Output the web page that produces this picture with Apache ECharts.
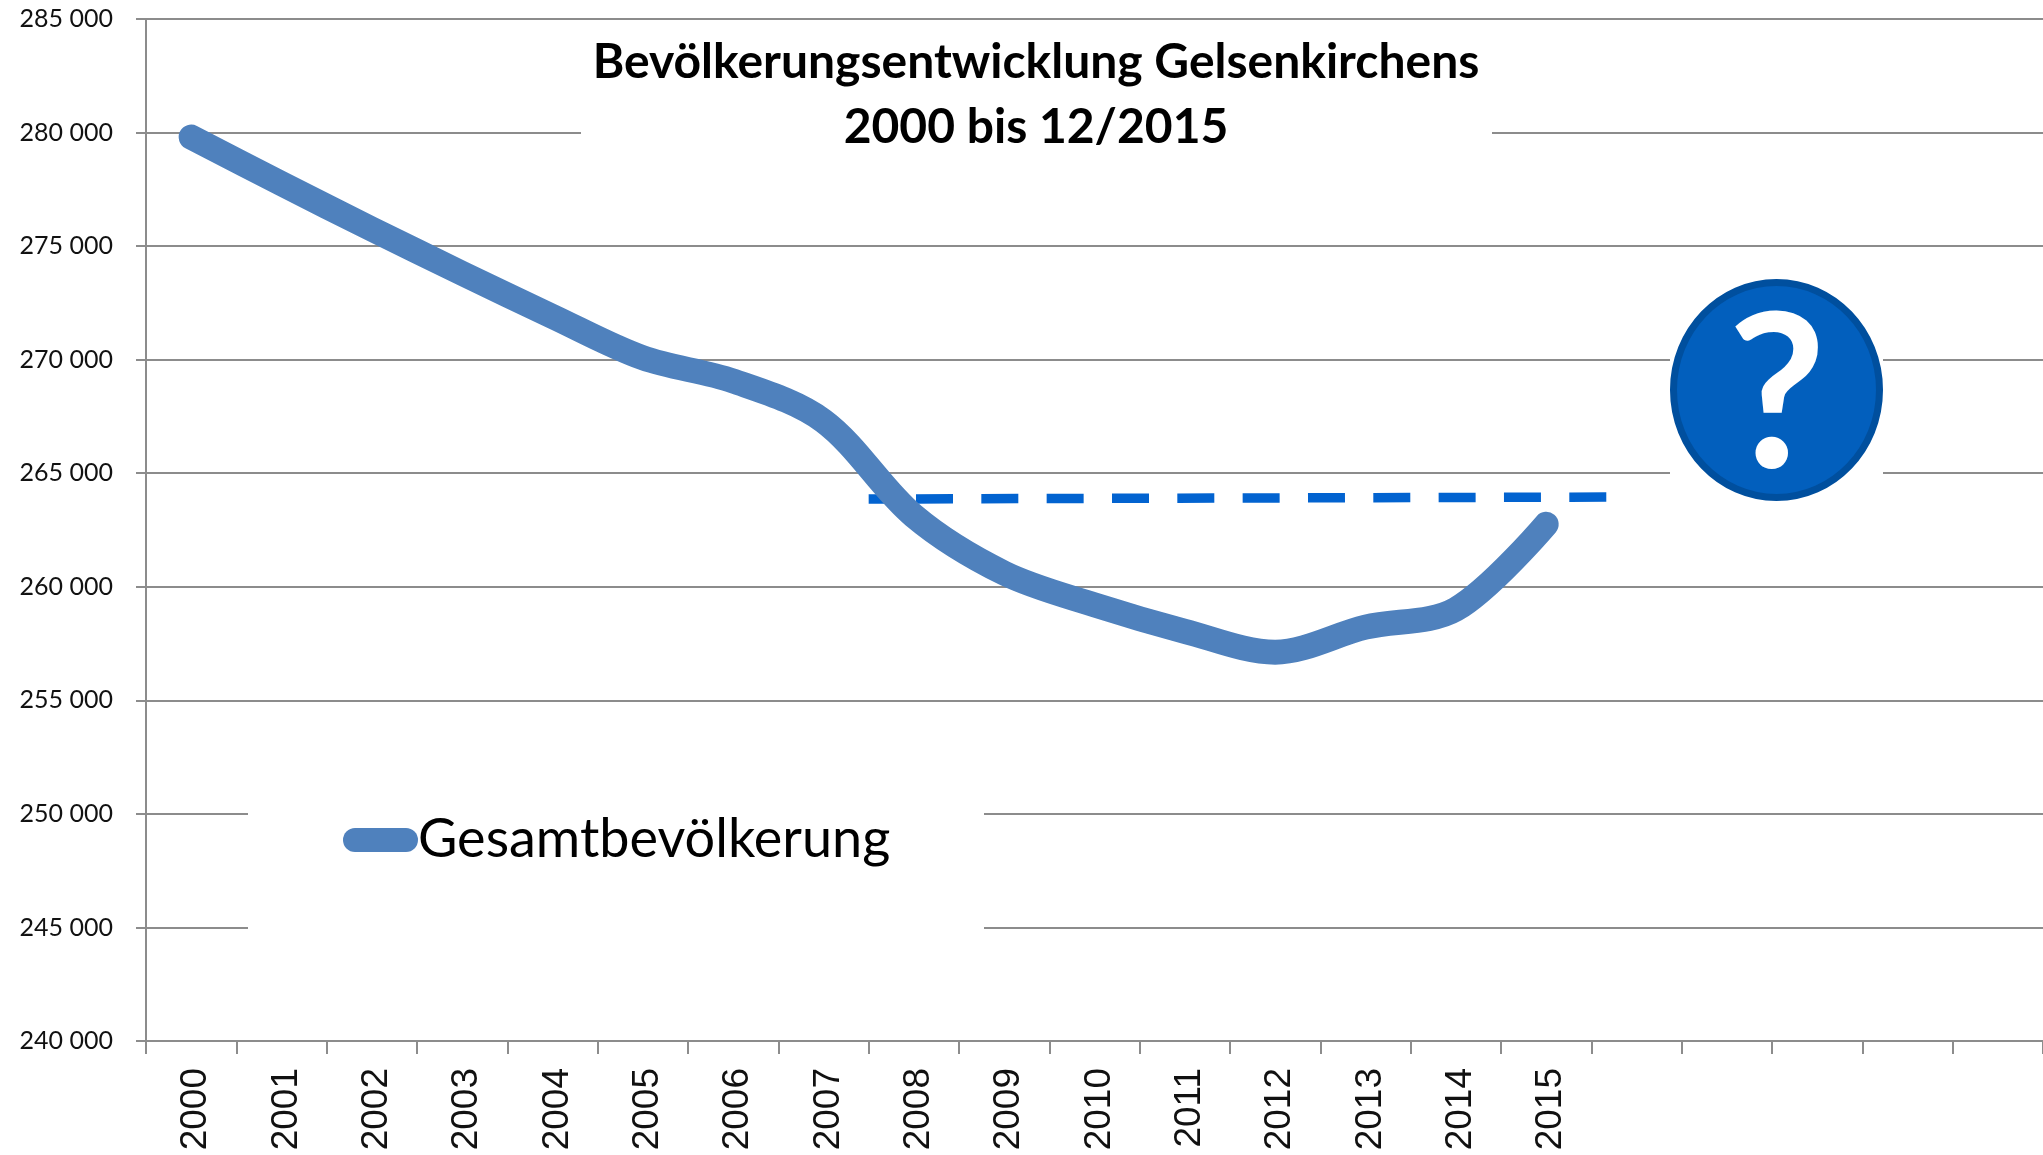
<!DOCTYPE html>
<html lang="de">
<head>
    <meta charset="UTF-8">
    <title>Bevölkerungsentwicklung Gelsenkirchens</title>
    <style>
        html, body { margin: 0; padding: 0; background: #fff; }
        #main { width: 2043px; height: 1155px; }
    </style>
</head>
<body>
<div id="main"></div>
<script src="https://cdn.jsdelivr.net/npm/echarts@6/dist/echarts.min.js"></script>
<script>
    // Jahre, die letzten fuenf Kategorien sind im Original leer
    const years = ['2000', '2001', '2002', '2003', '2004', '2005', '2006', '2007', '2008', '2009', '2010', '2011', '2012', '2013', '2014', '2015', '', '', '', '', ''];
    const population = [279800, 277750, 275750, 273800, 271900, 270080, 269060, 267300, 263120, 260600, 259200, 258040, 257120, 258220, 259010, 262750];
    // gestrichelte Linie: [Position auf der Kategorieachse, Wert]
    const dashX = [8, 16.196];
    const dashY = [263865, 263950];
    const yMin = 240000;
    const yMax = 285000;
    const yStep = 5000;

    const axisGray = '#8c8c8c';
    const sans = 'Lato, "Liberation Sans", sans-serif';

    let myChart = echarts.init(document.getElementById('main'));

    // weisse Flaechen hinter Titel, Legende und Fragezeichen unterbrechen die Gitterlinien
    function whiteBox(x, y, w, h) {
        return { type: 'rect', z: 1, shape: { x: x, y: y, width: w, height: h }, style: { fill: '#fff' } };
    }

    let option = {
        animation: false,
        backgroundColor: '#fff',
        grid: { left: 146, top: 19, width: 1897, height: 1022 },
        title: {
            text: 'Bevölkerungsentwicklung Gelsenkirchens\n2000 bis 12/2015',
            left: 1031,
            top: 25,
            textAlign: 'center',
            z: 5,
            textStyle: { fontFamily: sans, fontWeight: 'bold', fontSize: 48, lineHeight: 65, color: '#000' }
        },
        legend: {
            data: ['Gesamtbevölkerung'],
            left: 338,
            top: 808,
            z: 5,
            icon: 'path://M12,0H63A12,12 0 0 1 63,24H12A12,12 0 0 1 12,0Z',
            itemWidth: 75,
            itemHeight: 24,
            textStyle: { fontFamily: sans, fontSize: 54, color: '#000', padding: [0, 0, 0, -5] }
        },
        xAxis: [
            {
                type: 'category',
                data: years,
                boundaryGap: true,
                axisLine: { lineStyle: { color: axisGray, width: 2 } },
                axisTick: { show: true, length: 13, interval: 0, lineStyle: { color: axisGray, width: 2 } },
                axisLabel: { interval: 0, rotate: 90, margin: 27, verticalAlign: 'top', lineHeight: 10, fontFamily: '"Liberation Sans", sans-serif', fontSize: 37, color: '#111' },
                splitLine: { show: false }
            },
            // unsichtbare Achse fuer die gestrichelte Linie, sie liegt nicht auf den Kategorien
            { type: 'value', min: 0, max: years.length, show: false }
        ],
        yAxis: {
            type: 'value',
            min: yMin,
            max: yMax,
            interval: yStep,
            axisLine: { show: true, lineStyle: { color: axisGray, width: 2 } },
            axisTick: { show: true, length: 10, lineStyle: { color: axisGray, width: 2 } },
            axisLabel: {
                margin: 33,
                fontFamily: sans,
                fontSize: 25,
                color: '#111',
                formatter: function (v) { return String(v).slice(0, 3) + ' ' + String(v).slice(3); }
            },
            splitLine: { show: true, lineStyle: { color: axisGray, width: 2 } }
        },
        graphic: [
            whiteBox(581, 40, 911, 130),
            whiteBox(248, 780, 736, 180),
            whiteBox(1670, 330, 213, 180),
            {
                type: 'ellipse',
                z: 3,
                shape: { cx: 1776.5, cy: 390, rx: 103, ry: 107.5 },
                style: { fill: '#025fbd', stroke: '#004f9e', lineWidth: 7 }
            },
            {
                type: 'text',
                z: 4,
                x: 1777,
                y: 399,
                style: {
                    text: '?',
                    fill: '#fff',
                    fontFamily: sans,
                    fontWeight: 'bold',
                    fontSize: 214,
                    align: 'center',
                    verticalAlign: 'middle'
                }
            }
        ],
        series: [
            {
                name: 'Gesamtbevölkerung',
                type: 'line',
                z: 3,
                data: population,
                smooth: 0.33,
                showSymbol: false,
                itemStyle: { color: '#4f81bd' },
                lineStyle: { color: '#4f81bd', width: 25, cap: 'round', join: 'round' }
            },
            {
                name: 'Marke',
                type: 'line',
                z: 2,
                xAxisIndex: 1,
                data: [[dashX[0], dashY[0]], [dashX[1], dashY[1]]],
                showSymbol: false,
                lineStyle: { color: '#0263d0', width: 9.5, type: [37, 28.33], dashOffset: 18, cap: 'butt' }
            }
        ]
    };

    myChart.setOption(option);
</script>
</body>
</html>
